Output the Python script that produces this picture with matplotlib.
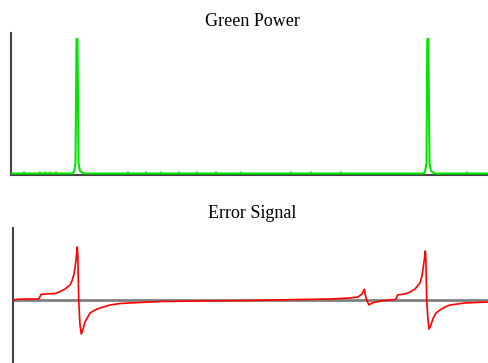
import matplotlib
matplotlib.use("Agg")
import matplotlib.pyplot as plt

# Green power trace (x in sample units, y in arbitrary power units)
green_x = [11, 23, 24, 25, 39, 40, 41, 44, 45, 46, 49, 50, 51, 55, 56, 57, 72, 74, 75.5, 76.5, 77.5, 78.5, 80, 82, 84,
           127, 128, 129, 145, 146, 147, 160, 161, 162, 178, 179, 180, 196, 197, 198, 215, 216, 217,
           240, 241, 242, 290, 291, 292, 310, 311, 312, 340, 341, 342,
           423, 425, 426.5, 427.3, 428.3, 429.5, 431, 433, 435, 466, 467, 468, 488]
green_y = [1.5, 1.5, 2.5, 1.5, 1.5, 2.5, 1.5, 1.5, 2.5, 1.5, 1.5, 2.5, 1.5, 1.5, 2.5, 1.5, 1.5, 3, 12, 136, 136, 12, 4, 2.5, 1.5,
           1.5, 2.5, 1.5, 1.5, 2.5, 1.5, 1.5, 2.5, 1.5, 1.5, 2.5, 1.5, 1.5, 2.5, 1.5, 1.5, 2.5, 1.5,
           1.5, 2.5, 1.5, 1.5, 2.5, 1.5, 1.5, 2.5, 1.5, 1.5, 2.5, 1.5,
           1.5, 3, 12, 136, 136, 12, 4, 2.5, 1.5, 1.5, 2.5, 1.5, 1.5]

# Error signal trace
err_x = [13, 15, 25, 38, 39, 41, 45, 55, 60, 65, 70, 72, 74, 75, 76, 76.8, 77.3, 77.8, 78.7, 80, 81.3, 82.5,
         85, 90, 95, 100, 110, 120, 140, 160, 200, 250, 300, 330, 350, 358, 362, 364.3, 366, 368, 369,
         372, 378, 385, 395, 396, 397.5, 405, 410, 415, 420, 422, 423.3, 424.5, 425.3, 425.9, 426.7,
         428, 429, 430.5, 433.3, 436, 440, 445, 450, 465, 488]
err_y = [-1, 0.5, 1, 1, 1.5, 5.5, 6, 6.5, 8.3, 11, 15, 19, 26, 32, 40, 48, 53, 44, 0, -25, -34, -31,
         -22, -13, -10, -8, -5, -3.5, -2.5, -1.5, -1, -0.5, 0.5, 1, 2, 3, 6, 10.7, 2, -3, -5,
         -3, -1.5, -0.5, 0.5, 1, 5, 6, 8, 11, 17, 24, 33, 42, 49, 40, 0,
         -20, -29, -26, -18, -13, -10, -7, -5, -3, -2]

W, H = 488, 363
fig = plt.figure(figsize=(W / 100, H / 100), dpi=100)
serif = ["Liberation Serif", "DejaVu Serif"]

ax1 = fig.add_axes([11 / W, 1 - 175 / H, (488 - 11) / W, (175 - 33) / H])
ax1.plot(green_x, green_y, color="#00e600", lw=1.5, zorder=3)
ax1.set_xlim(11, 488)
ax1.set_ylim(0, 142)
for s in ["top", "right"]:
    ax1.spines[s].set_visible(False)
for s in ["left", "bottom"]:
    ax1.spines[s].set_color("#444444")
    ax1.spines[s].set_linewidth(1.5)
ax1.set_xticks([])
ax1.set_yticks([])
fig.text(252 / W, 1 - 22 / H, "Green Power", ha="center", va="center", fontsize=13, family=serif)

ax2 = fig.add_axes([13 / W, 0, (488 - 13) / W, (363 - 228) / H])
ax2.axhline(0, color="#808080", lw=2, zorder=1)
ax2.plot(err_x, err_y, color="#ff0000", lw=1.2, zorder=3)
ax2.set_xlim(13, 488)
ax2.set_ylim(-63, 72)
for s in ["top", "right", "bottom"]:
    ax2.spines[s].set_visible(False)
ax2.spines["left"].set_color("#444444")
ax2.spines["left"].set_linewidth(1.5)
ax2.set_xticks([])
ax2.set_yticks([])
fig.text(252 / W, 1 - 213 / H, "Error Signal", ha="center", va="center", fontsize=13, family=serif)

fig.savefig("out.png", dpi=100)
